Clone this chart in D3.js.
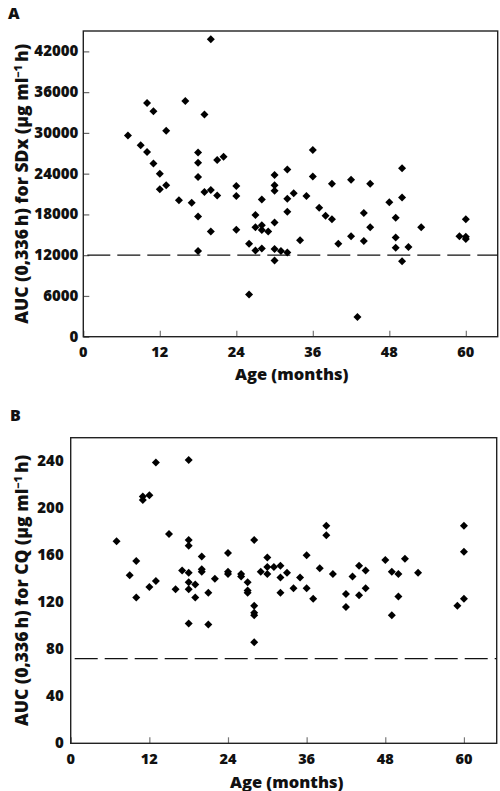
<!DOCTYPE html>
<html><head><meta charset="utf-8">
<script src="https://cdn.jsdelivr.net/npm/d3@7"></script>
<style>body{margin:0;background:#fff}svg{display:block}</style></head>
<body><svg id="c" width="500" height="791"></svg>
<script>
// Panel A: AUC(0,336h) for SDx
const ageA = [7,9,10,10,11,11,12,12,13,13,15,16,17,18,18,18,18,18,19,19,20,20,20,21,21,22,24,24,24,26,26,27,27,27,28,28,28,28,29,30,30,30,30,30,30,31,32,32,32,32,33,34,35,36,36,37,38,39,39,40,42,42,43,44,44,45,45,48,49,49,49,50,50,50,51,53,59,60,60,60];
const aucSDx = [29600,28200,34400,27200,33200,25500,24000,21700,30300,22300,20100,34700,19700,27100,25600,23500,17700,12600,32700,21300,43800,21600,15500,26000,20800,26500,22200,20700,15750,13700,6200,17900,16100,12700,20200,16400,15700,13000,15500,23800,22300,21500,16800,12900,11200,12600,24600,20300,18400,12400,21100,14200,20700,27500,23600,19000,17800,22500,17300,13700,23100,14800,2900,18200,14100,22500,16100,19800,17500,14600,13100,24800,20500,11100,13200,16100,14800,17300,14700,14400];
// Panel B: AUC(0,336h) for CQ
const ageB = [7,9,10,10,11,11,12,12,13,13,15,16,17,18,18,18,18,18,18,18,19,19,20,20,20,21,21,22,24,24,24,26,26,27,27,27,28,28,28,28,28,29,30,30,30,31,32,32,32,33,34,35,36,36,37,38,39,39,40,42,42,43,44,44,45,45,48,49,49,50,50,51,53,59,60,60,60];
const aucCQ = [172,143,155,124,210,207,211,133,239,138,178,131,147,241,173,168,145,137,131,102,135,124,159,148,146,128,101,140,162,146,144,144,142,137,130,128,173,117,111,109,86,146,158,150,144,150,151,141,128,145,132,141,160,132,123,149,185,177,144,127,116,142,151,126,147,132,156,146,109,144,125,157,145,117,185,163,123];
const xTicks = [0,12,24,36,48,60];
const yTicksA = [0,6000,12000,18000,24000,30000,36000,42000];
const yTicksB = [0,40,80,120,160,200,240];
const thresholdA = 12000, thresholdB = 72;

const svg = d3.select('#c');
const FONT = '"Open Sans", Lato, sans-serif';
const W = 800;

function panel(o){
  const g = svg.append('g');
  const x = d3.scaleLinear().domain([0,65]).range([o.left,o.right]);
  const y = d3.scaleLinear().domain(o.ydom).range([o.bottom,o.top]);
  g.append('g').attr('transform',`translate(0,${o.bottom})`)
    .call(d3.axisTop(x).tickValues(xTicks).tickSize(6).tickFormat(''))
    .call(s=>{s.select('.domain').remove();s.selectAll('line').attr('stroke','#777').attr('stroke-width',1.2);});
  if(o.yTicksInward){
    g.append('g').attr('transform',`translate(${o.left},0)`)
      .call(d3.axisRight(y).tickValues(o.yticks).tickSize(6).tickFormat(''))
      .call(s=>{s.select('.domain').remove();s.selectAll('line').attr('stroke','#666').attr('stroke-width',1.2);});
  }
  g.selectAll('.xl').data(xTicks).enter().append('text')
    .attr('x',d=>x(d)).attr('y',o.bottom+o.xlOff).attr('text-anchor','middle')
    .attr('font-family',FONT).attr('font-weight',W).attr('font-size',14.5).attr('fill','#111').text(d=>d);
  g.selectAll('.yl').data(o.yticks).enter().append('text')
    .attr('x',o.left-o.ylGap).attr('y',d=>y(d)+5).attr('text-anchor','end')
    .attr('font-family',FONT).attr('font-weight',W).attr('font-size',15).attr('fill','#111').text(d=>d);
  g.append('rect').attr('x',o.left).attr('y',o.top).attr('width',o.right-o.left).attr('height',o.bottom-o.top)
    .attr('fill','none').attr('stroke','#222').attr('stroke-width',1.4);
  g.append('line').attr('x1',o.left).attr('x2',o.right).attr('y1',y(o.thr)).attr('y2',y(o.thr))
    .attr('stroke','#111').attr('stroke-width',1.3).attr('stroke-dasharray','23,7').attr('stroke-dashoffset',-4);
  const sym = d3.symbol().type(d3.symbolSquare).size(32);
  g.selectAll('.pt').data(o.xs.map((a,i)=>[a,o.ys[i]])).enter().append('path')
    .attr('d',sym).attr('transform',d=>`translate(${x(d[0])},${y(d[1])}) rotate(45)`).attr('fill','#000');
  g.append('text').attr('x',o.xtX).attr('y',o.xtY).attr('text-anchor','middle')
    .attr('font-family',FONT).attr('font-weight',W).attr('font-size',16.5).attr('fill','#111').text('Age (months)');
  const yt = g.append('text').attr('transform',`translate(${o.ytX},${(o.top+o.bottom)/2}) rotate(-90)`)
    .attr('text-anchor','middle').attr('font-family',FONT).attr('font-weight',W).attr('font-size',17.5).attr('fill','#111');
  yt.append('tspan').text(`AUC (0,336\u2009h) for ${o.drug} (\u03bcg ml`);
  yt.append('tspan').attr('dy',-6).attr('font-size',11).text('\u2212');
  yt.append('tspan').attr('font-size',11).text('1');
  yt.append('tspan').attr('dy',6).text('\u2009h)');
  g.append('text').attr('x',o.labX).attr('y',o.labY).attr('font-family',FONT).attr('font-weight',W)
    .attr('font-size',16).attr('fill','#111').text(o.label);
}

panel({left:83.3,right:497.7,top:31,bottom:336.7,ydom:[0,45000],yticks:yTicksA,yTicksInward:true,
  xs:ageA,ys:aucSDx,thr:thresholdA,xlOff:20.6,ylGap:5,xtX:291.7,xtY:380,ytX:28,drug:'SDx',label:'A',labX:8,labY:19});
panel({left:70.7,right:496.7,top:437.7,bottom:743.3,ydom:[0,260],yticks:yTicksB,yTicksInward:false,
  xs:ageB,ys:aucCQ,thr:thresholdB,xlOff:21,ylGap:7,xtX:286.7,xtY:787.5,ytX:28,drug:'CQ',label:'B',labX:10,labY:421});
</script></body></html>
